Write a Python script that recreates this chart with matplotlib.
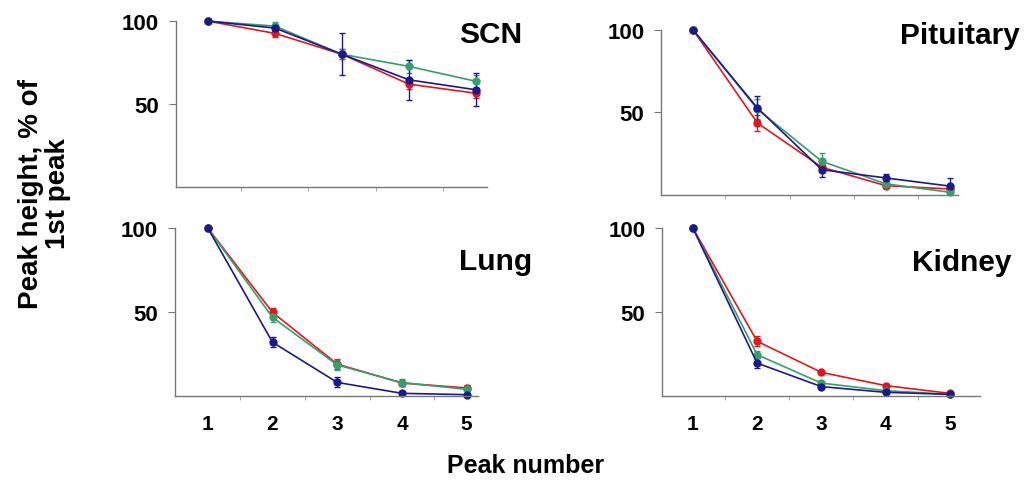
import matplotlib.pyplot as plt
from matplotlib.ticker import FixedLocator

peaks = [1, 2, 3, 4, 5]
tick_labels = ["1", "2", "3", "4", "5"]

# values, % of 1st peak
scn_red = [100, 92.6, 80, 62, 56.5]
scn_green = [100, 97, 80, 72.7, 63.7]
scn_blue = [100, 95.8, 80, 64.6, 58.6]
scn_red_err = [0, 2, 3, 3, 3]
scn_green_err = [0, 2.5, 3, 4, 4]
scn_blue_err = [0, 2, 12.6, 12, 10]

pit_red = [100, 43.6, 16.8, 5.6, 3.6]
pit_green = [100, 52, 20.4, 6.7, 1.6]
pit_blue = [100, 52.7, 15.3, 10.3, 5.3]
pit_red_err = [0, 5, 2, 1.5, 1]
pit_green_err = [0, 6, 5, 1.5, 1]
pit_blue_err = [0, 7, 4.5, 2.5, 5]

lung_red = [100, 49.8, 19, 7.7, 4.8]
lung_green = [100, 46.8, 18.5, 8, 4]
lung_blue = [100, 32, 8.1, 1.6, 0.8]
lung_red_err = [0, 2.5, 3, 1.5, 1.5]
lung_green_err = [0, 3, 3, 2, 1]
lung_blue_err = [0, 3, 3, 0.5, 0.5]

kid_red = [100, 32.6, 14.1, 6.2, 1.6]
kid_green = [100, 24.6, 7.7, 3.2, 1]
kid_blue = [100, 19.6, 5.6, 2.2, 1]
kid_red_err = [0, 3, 1, 1, 0.5]
kid_green_err = [0, 2, 1, 0.5, 0.5]
kid_blue_err = [0, 3, 1, 0.5, 0.5]

RED = "#e3161d"
GREEN = "#35a06a"
BLUE = "#1a1a8e"

panels = [
    # name, rect, xlim, series, show x labels, title position (px)
    ("SCN", [0.171, 0.6124, 0.3025, 0.342], (0.52, 5.16),
     [(scn_red, scn_red_err), (scn_green, scn_green_err), (scn_blue, scn_blue_err)],
     False, (522, 35)),
    ("Pituitary", [0.643, 0.596, 0.289, 0.340], (0.50, 5.12),
     [(pit_red, pit_red_err), (pit_green, pit_green_err), (pit_blue, pit_blue_err)],
     False, (1020, 36)),
    ("Lung", [0.170, 0.1814, 0.2947, 0.3464], (0.49, 5.17),
     [(lung_red, lung_red_err), (lung_green, lung_green_err), (lung_blue, lung_blue_err)],
     True, (532, 262)),
    ("Kidney", [0.644, 0.1814, 0.3093, 0.3464], (0.52, 5.47),
     [(kid_red, kid_red_err), (kid_green, kid_green_err), (kid_blue, kid_blue_err)],
     True, (1012, 263)),
]

fig = plt.figure(figsize=(10.28, 4.85), dpi=100)
plt.rcParams['font.family'] = ['Liberation Sans', 'DejaVu Sans']

for name, rect, xlim, series, show_labels, title_px in panels:
    ax = fig.add_axes(rect)
    for (vals, err), col in zip(series, [RED, GREEN, BLUE]):
        ax.errorbar(peaks, vals, yerr=err, color=col, lw=1.2, marker="o",
                    ms=5, capsize=2, elinewidth=1, clip_on=False)
    ax.set_xlim(*xlim)
    ax.set_ylim(0, 100)
    ax.spines["top"].set_visible(False)
    ax.spines["right"].set_visible(False)
    for s in ("left", "bottom"):
        ax.spines[s].set_color("#777777")
        ax.spines[s].set_linewidth(1)
    ax.set_yticks([50, 100])
    ax.set_yticklabels(["50", "100"], fontsize=16, fontweight="bold")
    ax.tick_params(axis="y", length=5, color="#777777", pad=7)
    ax.xaxis.set_minor_locator(FixedLocator([1.5, 2.5, 3.5, 4.5]))
    ax.tick_params(axis="x", which="minor", length=3, color="#999999")
    ax.set_xticks(peaks)
    ax.tick_params(axis="x", which="major", length=0, pad=13)
    if show_labels:
        ax.set_xticklabels(tick_labels, fontsize=15, fontweight="bold")
    else:
        ax.set_xticklabels([])
    fig.text(title_px[0] / 1028, 1 - title_px[1] / 485, name, ha="right",
             va="center", fontsize=21.5, fontweight="bold")

fig.text(0.043, 0.6, "Peak height, % of\n1st peak", rotation=90, ha="center",
         va="center", fontsize=20, fontweight="bold", linespacing=1.05)
fig.text(0.511, 0.04, "Peak number", ha="center", va="center", fontsize=18,
         fontweight="bold")

fig.savefig("out.png", dpi=100)
